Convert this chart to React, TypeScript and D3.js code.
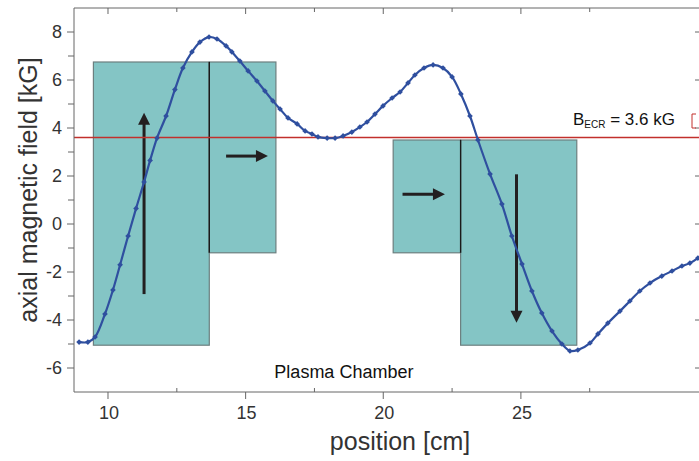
import React from 'react';
import * as d3 from 'd3';

// measured field profile along the axis
const positionCm = [
  8.95, 9.27, 9.53, 9.89, 10.18, 10.44, 10.73, 11.02, 11.31, 11.53, 11.78, 12.11, 12.43, 12.72,
  13.05, 13.34, 13.67, 13.96, 14.29, 14.5, 14.79, 15.09, 15.41, 15.7, 15.99, 16.25, 16.54, 16.87,
  17.16, 17.41, 17.63, 17.96, 18.25, 18.54, 18.86, 19.15, 19.41, 19.7, 19.99, 20.32, 20.61, 20.9,
  21.15, 21.48, 21.81, 22.17, 22.5, 22.82, 23.15, 23.44, 23.88, 24.31, 24.67, 25.04, 25.4, 25.76,
  26.13, 26.49, 26.78, 27.07, 27.51, 27.8, 28.16, 28.6, 28.96, 29.32, 29.69, 30.12, 30.49, 30.85,
  31.14, 31.43,
];
const fieldKG = [
  -4.92, -4.92, -4.71, -3.75, -2.75, -1.7, -0.5, 0.65, 1.75, 2.65, 3.58, 4.5, 5.6, 6.5,
  7.17, 7.58, 7.79, 7.71, 7.42, 7.17, 6.79, 6.38, 5.96, 5.54, 5.13, 4.79, 4.42, 4.17,
  3.88, 3.75, 3.63, 3.58, 3.58, 3.67, 3.83, 4.04, 4.25, 4.58, 4.92, 5.25, 5.5, 5.88,
  6.21, 6.5, 6.63, 6.5, 6.13, 5.42, 4.5, 3.5, 2.08, 0.83, -0.5, -1.67, -2.79, -3.71,
  -4.46, -5.0, -5.29, -5.25, -4.96, -4.58, -4.13, -3.63, -3.21, -2.79, -2.46, -2.17, -1.96, -1.75,
  -1.63, -1.42,
];

// coils (cm / kG extents)
const coilStart = [9.47, 13.68, 20.36, 22.81];
const coilEnd = [13.68, 16.1, 22.81, 27.03];
const coilTop = [6.75, 6.75, 3.5, 3.5];
const coilBottom = [-5.05, -1.2, -1.2, -5.05];

// arrows
const arrowX1 = [11.31, 14.29, 20.7, 24.84];
const arrowY1 = [-2.92, 2.83, 1.24, 2.07];
const arrowX2 = [11.31, 15.81, 22.24, 24.84];
const arrowY2 = [4.64, 2.83, 1.24, -4.11];

const bEcr = 3.6;

const xTicksMajor = [10, 15, 20, 25];
const xTicksMinor = [12.5, 17.5, 22.5, 27.5];
const yTicks = [-6, -4, -2, 0, 2, 4, 6, 8];
const yTicksMinor = [-5, -3, -1, 1, 3, 5, 7];

const W = 699;
const H = 461;
const margin = { top: 8, right: 0, bottom: 69, left: 74 };

const App = () => {
  const x = d3.scaleLinear().domain([8.765, 31.47]).range([margin.left, W - margin.right]);
  const y = d3.scaleLinear().domain([-7, 9]).range([H - margin.bottom, margin.top]);
  const x0 = margin.left;
  const x1 = W - margin.right;
  const y0 = H - margin.bottom;
  const y1 = margin.top;

  const points = positionCm.map((p, i) => [p, fieldKG[i]] as [number, number]);
  const line = d3
    .line<[number, number]>()
    .x(d => x(d[0]))
    .y(d => y(d[1]))
    .curve(d3.curveCatmullRom);

  const font = '"Liberation Sans", Arial, sans-serif';
  const axisColor = '#666';
  const textColor = '#333';
  const blue = '#2f4f9f';

  const arrowHead = (i: number) => {
    const ax = x(arrowX2[i]);
    const ay = y(arrowY2[i]);
    const dx = x(arrowX2[i]) - x(arrowX1[i]);
    const dy = y(arrowY2[i]) - y(arrowY1[i]);
    const len = Math.sqrt(dx * dx + dy * dy);
    const ux = dx / len;
    const uy = dy / len;
    const hl = 12;
    const hw = 6;
    const bx = ax - ux * hl;
    const by = ay - uy * hl;
    return `M${ax},${ay} L${bx - uy * hw},${by + ux * hw} L${bx + uy * hw},${by - ux * hw} Z`;
  };

  return (
    <svg
      width={W}
      height={H}
      style={{ position: 'absolute', left: 0, top: 0, background: '#fff' }}
      fontFamily={font}
    >
      <defs>
        <clipPath id="plot">
          <rect x={x0} y={y1} width={x1 - x0} height={y0 - y1} />
        </clipPath>
      </defs>

      {/* coils */}
      {coilStart.map((s, i) => (
        <rect
          key={'c' + i}
          x={x(s)}
          y={y(coilTop[i])}
          width={x(coilEnd[i]) - x(s)}
          height={y(coilBottom[i]) - y(coilTop[i])}
          fill="#84c5c5"
          stroke="#6c7f7f"
          strokeWidth={1.2}
        />
      ))}
      {/* shared coil edges */}
      <line x1={x(coilStart[1])} x2={x(coilStart[1])} y1={y(coilTop[1])} y2={y(coilBottom[1])} stroke="#1a1a1a" strokeWidth={1.4} />
      <line x1={x(coilStart[3])} x2={x(coilStart[3])} y1={y(coilTop[2])} y2={y(coilBottom[2])} stroke="#1a1a1a" strokeWidth={1.4} />

      {/* arrows */}
      {arrowX1.map((ax, i) => {
        const dx = x(arrowX2[i]) - x(ax);
        const dy = y(arrowY2[i]) - y(arrowY1[i]);
        const len = Math.sqrt(dx * dx + dy * dy);
        return (
          <g key={'a' + i}>
            <line
              x1={x(ax)}
              y1={y(arrowY1[i])}
              x2={x(arrowX2[i]) - (dx / len) * 10}
              y2={y(arrowY2[i]) - (dy / len) * 10}
              stroke="#231f20"
              strokeWidth={3}
            />
            <path d={arrowHead(i)} fill="#231f20" />
          </g>
        );
      })}

      {/* B_ECR line */}
      <line x1={x0} x2={x1} y1={y(bEcr)} y2={y(bEcr)} stroke="#c2302c" strokeWidth={1.5} />

      {/* field curve */}
      <g clipPath="url(#plot)">
        <path d={line(points) || ''} fill="none" stroke={blue} strokeWidth={2.2} />
        {points.map((d, i) => (
          <rect
            key={'m' + i}
            x={x(d[0]) - 2}
            y={y(d[1]) - 2}
            width={4}
            height={4}
            fill={blue}
            transform={`rotate(45 ${x(d[0])} ${y(d[1])})`}
          />
        ))}
      </g>

      {/* frame */}
      <line x1={x0} x2={x0} y1={y1} y2={y0} stroke={axisColor} />
      <line x1={x0} x2={x1} y1={y0} y2={y0} stroke={axisColor} />
      <line x1={x0} x2={x1} y1={y1} y2={y1} stroke={axisColor} />

      {/* y ticks */}
      {yTicks.map(t => (
        <g key={'y' + t}>
          <line x1={x0 - 7} x2={x0} y1={y(t)} y2={y(t)} stroke={axisColor} />
          <line x1={x1 - 4} x2={x1} y1={y(t)} y2={y(t)} stroke={axisColor} />
          <text x={x0 - 12} y={y(t)} dy="0.36em" textAnchor="end" fontSize={18} fill={textColor}>
            {t}
          </text>
        </g>
      ))}
      {yTicksMinor.map(t => (
        <line key={'ym' + t} x1={x0 - 6} x2={x0} y1={y(t)} y2={y(t)} stroke={axisColor} />
      ))}

      {/* x ticks */}
      {xTicksMajor.map(t => (
        <g key={'x' + t}>
          <line x1={x(t)} x2={x(t)} y1={y0} y2={y0 + 7} stroke={axisColor} />
          <line x1={x(t)} x2={x(t)} y1={y1} y2={y1 + 6} stroke={axisColor} />
          <text x={x(t) + 1} y={y0 + 27} textAnchor="middle" fontSize={18} fill={textColor}>
            {t}
          </text>
        </g>
      ))}
      {xTicksMinor.map(t => (
        <g key={'xm' + t}>
          <line x1={x(t)} x2={x(t)} y1={y0 - 4} y2={y0} stroke={axisColor} />
          <line x1={x(t)} x2={x(t)} y1={y1} y2={y1 + 4} stroke={axisColor} />
        </g>
      ))}

      {/* labels */}
      <text x={400} y={450} textAnchor="middle" fontSize={25} fill={textColor}>
        position [cm]
      </text>
      <text
        transform="translate(37,190) rotate(-90)"
        textAnchor="middle"
        fontSize={25}
        fill={textColor}
      >
        axial magnetic field [kG]
      </text>
      <text x={x(18.57)} y={y(-6.4)} textAnchor="middle" fontSize={18} fill="#111">
        Plasma Chamber
      </text>
      <text x={573} y={125} fontSize={17} fill="#111">
        B
        <tspan fontSize={10} dy={3}>ECR</tspan>
        <tspan dy={-3}> = 3.6 kG</tspan>
      </text>
      <path d="M696,114 L692,114 L692,128 L696,128" fill="none" stroke="#c2302c" strokeWidth={1} />
    </svg>
  );
};

export default App;
